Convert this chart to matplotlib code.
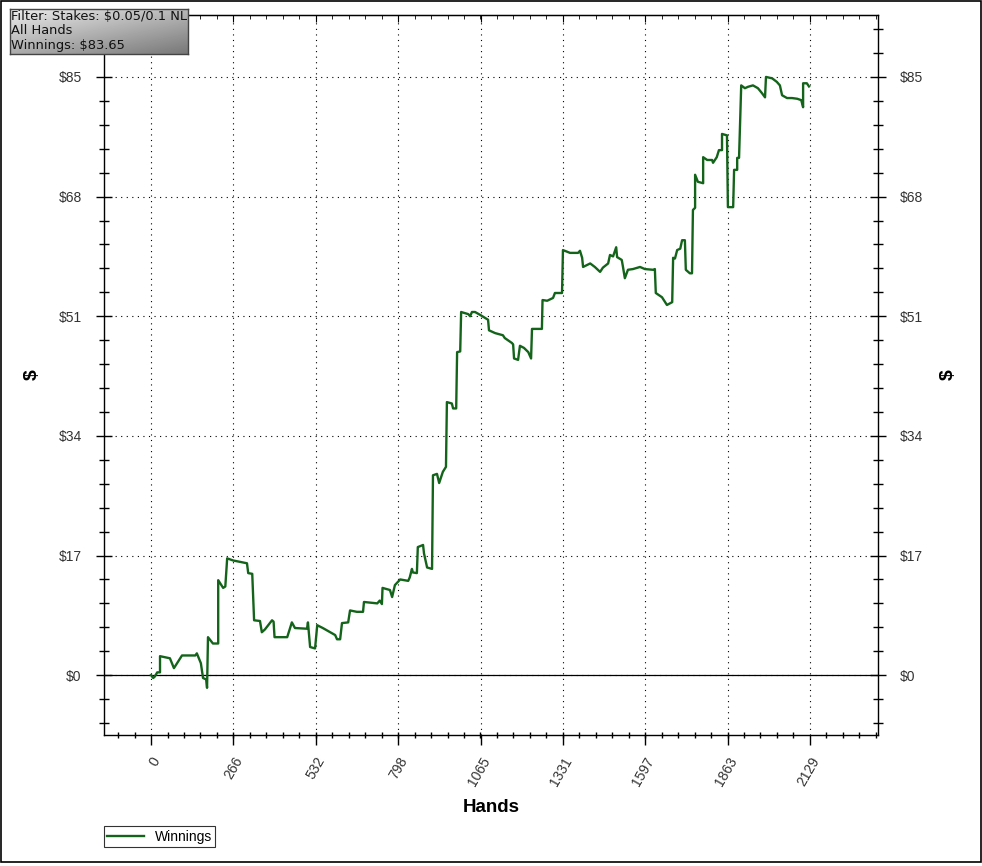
import numpy as np
import matplotlib
matplotlib.use("Agg")
import matplotlib.pyplot as plt
from matplotlib.ticker import MultipleLocator, FixedLocator
from matplotlib.patches import Rectangle

# hands played vs cumulative winnings ($)
hands = [0, 7, 12, 20, 29, 29, 61, 74, 100, 143, 148, 161, 168, 178, 181, 184, 200, 217, 217,
         233, 240, 246, 265, 310, 314, 327, 333, 352, 358, 368, 391, 396, 399, 440, 455, 465,
         504, 507, 514, 530, 537, 555, 595, 601, 611, 617, 637, 643, 665, 685, 688, 731, 739,
         746, 748, 772, 779, 788, 805, 831, 836, 843, 846, 859, 862, 879, 882, 892, 908, 911,
         924, 931, 943, 953, 956, 972, 976, 986, 989, 999, 1002, 1025, 1031, 1037, 1047, 1063,
         1089, 1092, 1112, 1137, 1143, 1166, 1170, 1173, 1186, 1192, 1205, 1219, 1228, 1231,
         1263, 1265, 1280, 1299, 1305, 1328, 1331, 1354, 1380, 1386, 1393, 1396, 1419, 1434,
         1451, 1460, 1477, 1483, 1493, 1503, 1506, 1521, 1525, 1531, 1541, 1557, 1580, 1596,
         1622, 1628, 1631, 1651, 1667, 1684, 1687, 1693, 1700, 1710, 1716, 1725, 1728, 1741,
         1748, 1751, 1758, 1758, 1767, 1784, 1784, 1797, 1813, 1816, 1828, 1835, 1845, 1845,
         1861, 1864, 1881, 1884, 1894, 1894, 1900, 1904, 1907, 1919, 1929, 1945, 1961, 1974,
         1984, 1987, 2007, 2022, 2032, 2039, 2055, 2071, 2088, 2101, 2107, 2107, 2119, 2126]
winnings = [0.0, -0.4, -0.2, 0.4, 0.4, 2.7, 2.4, 1.0, 2.8, 2.8, 3.1, 1.7, -0.4, -0.6, -1.8, 5.4,
            4.5, 4.5, 13.5, 12.4, 12.6, 16.6, 16.3, 15.9, 14.5, 14.4, 7.8, 7.7, 6.1, 6.5, 7.8,
            7.6, 5.4, 5.4, 7.5, 6.7, 6.6, 7.5, 4.0, 3.8, 7.1, 6.7, 5.7, 5.1, 5.1, 7.4, 7.5, 9.2,
            9.0, 9.0, 10.4, 10.2, 10.6, 10.1, 12.4, 12.1, 11.1, 12.8, 13.6, 13.4, 13.9, 15.1,
            14.6, 14.5, 18.2, 18.5, 17.3, 15.3, 15.1, 28.4, 28.6, 27.3, 28.9, 29.6, 38.8, 38.6,
            37.9, 37.9, 45.9, 46.0, 51.6, 51.3, 51.0, 51.6, 51.6, 51.2, 50.5, 49.0, 48.6, 48.3,
            47.9, 47.2, 47.0, 45.0, 44.8, 46.8, 46.5, 45.9, 45.0, 49.2, 49.2, 53.3, 53.2, 53.6,
            54.3, 54.3, 60.4, 60.0, 60.0, 60.3, 59.3, 58.0, 58.5, 58.0, 57.3, 57.9, 58.5, 59.7,
            59.5, 60.8, 59.4, 59.0, 58.0, 56.4, 57.6, 57.7, 58.0, 57.7, 57.6, 57.7, 54.3, 53.7,
            52.6, 53.0, 59.3, 59.2, 60.4, 60.6, 61.8, 61.8, 57.6, 57.1, 57.1, 66.1, 66.4, 71.1,
            70.1, 69.9, 73.6, 73.2, 73.2, 72.8, 73.6, 74.6, 74.6, 76.9, 76.7, 66.5, 66.5, 71.8,
            71.8, 73.5, 73.5, 79.2, 83.8, 83.4, 83.6, 83.8, 83.4, 82.7, 82.1, 85.0, 84.8, 84.3,
            83.8, 82.4, 82.0, 82.0, 81.9, 81.7, 80.7, 84.1, 84.1, 83.65]

x_ticks = [0, 266, 532, 798, 1065, 1331, 1597, 1863, 2129]
y_ticks = [0, 17, 34, 51, 68, 85]
y_labels = ["$0", "$17", "$34", "$51", "$68", "$85"]
info_lines = ["Filter: Stakes: $0.05/0.1 NL", "All Hands", "Winnings: $83.65"]

W, H = 982, 866
fig = plt.figure(figsize=(W / 100, H / 100), dpi=100)
ax = fig.add_axes([104 / W, 1 - 735 / H, 774 / W, 720 / H])

green = "#13641a"
ax.plot(hands, winnings, color=green, lw=1.7, label="Winnings", zorder=3)
ax.axhline(0, color="black", lw=0.9, zorder=2)

ax.set_xlim(-152, 2349)
ax.set_ylim(-8.5, 93.8)

ax.xaxis.set_major_locator(FixedLocator(x_ticks))
ax.set_xticklabels([str(t) for t in x_ticks], rotation=60, ha="right",
                   rotation_mode="anchor", fontsize=10, color="#333333",
                   family="Liberation Sans")
ax.xaxis.set_minor_locator(MultipleLocator(2129 / 40))
ax.yaxis.set_major_locator(FixedLocator(y_ticks))
ax.set_yticklabels(y_labels, fontsize=10, color="#333333", family="Liberation Sans")
ax.yaxis.set_minor_locator(MultipleLocator(3.4))

ax.grid(True, which="major", color="black", linestyle=(0, (1, 4)), lw=0.8)

ax.tick_params(axis="y", which="major", direction="inout", length=12, width=1,
               right=True, labelright=True, pad=10)
ax.tick_params(axis="y", which="minor", direction="inout", length=6.5, width=1, right=True)
ax.tick_params(axis="x", which="major", direction="out", length=7, width=1, pad=7)
ax.tick_params(axis="x", which="minor", direction="inout", length=5, width=1)
for lbl in ax.get_yticklabels():
    lbl.set_color("#333333")

top = ax.secondary_xaxis("top")
top.xaxis.set_major_locator(FixedLocator(x_ticks))
top.xaxis.set_minor_locator(MultipleLocator(2129 / 40))
top.tick_params(which="major", direction="in", length=5, labeltop=False)
top.tick_params(which="minor", direction="in", length=3)
top.set_xticklabels([])

for s in ax.spines.values():
    s.set_linewidth(1)

ax.set_xlabel("Hands", fontsize=13.5, fontweight="bold", family="Liberation Sans", labelpad=8)
fig.text(32 / W, 1 - 375 / H, "$", rotation=90, fontsize=14, fontweight="bold",
         ha="center", va="center", family="Liberation Sans")
fig.text(948 / W, 1 - 375 / H, "$", rotation=90, fontsize=14, fontweight="bold",
         ha="center", va="center", family="Liberation Sans")

leg = ax.legend(loc="lower left", bbox_to_anchor=(104 / W, 1 - 847 / H),
                bbox_transform=fig.transFigure, frameon=True, fancybox=False,
                prop={"family": "Liberation Sans", "size": 10}, handlelength=2.6,
                borderpad=0.25, borderaxespad=0, handletextpad=0.8)
leg.get_frame().set_edgecolor("black")
leg.get_frame().set_linewidth(0.8)

# gradient info box
bx = fig.add_axes([10 / W, 1 - 54 / H, 178 / W, 45 / H])
gy, gx = np.mgrid[0:1:45j, 0:1:178j]
grad = 0.92 - 0.45 * (0.55 * gy + 0.45 * gx)
bx.imshow(grad, cmap="gray", vmin=0, vmax=1, aspect="auto", extent=(0, 1, 0, 1), origin="upper")
bx.set_xticks([])
bx.set_yticks([])
for s in bx.spines.values():
    s.set_color("#444444")
    s.set_linewidth(1)
for i, line in enumerate(info_lines):
    bx.text(0.008, 1 - (8 + 14 * i) / 45, line, transform=bx.transAxes, fontsize=9.4,
            family="DejaVu Sans", va="center", ha="left", color="#111111")

fig.patches.append(Rectangle((0.5 / W, 4 / H), 980 / W, 861.5 / H, transform=fig.transFigure,
                             fill=False, edgecolor="black", lw=1.2))

fig.savefig("out.png", dpi=100, facecolor="white")
